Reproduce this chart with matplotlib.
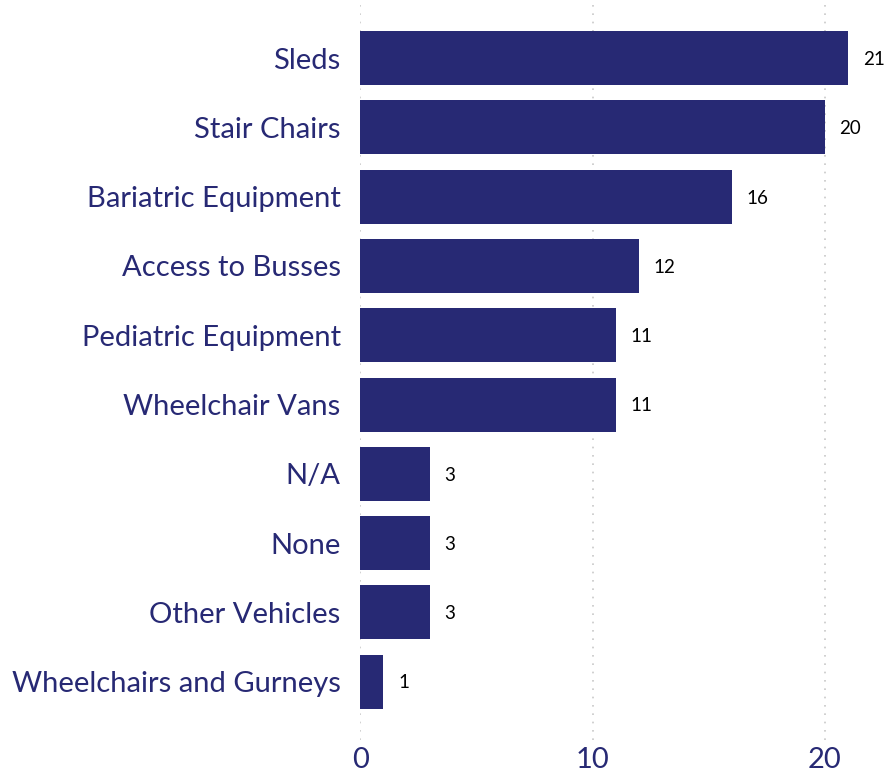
import matplotlib.pyplot as plt

categories = ["Sleds", "Stair Chairs", "Bariatric Equipment", "Access to Busses",
              "Pediatric Equipment", "Wheelchair Vans", "N/A", "None",
              "Other Vehicles", "Wheelchairs and Gurneys"]
counts = [21, 20, 16, 12, 11, 11, 3, 3, 3, 1]
ticks = [0, 10, 20]

navy = "#272974"
plt.rcParams['font.family'] = ['Lato', 'DejaVu Sans']

fig = plt.figure(figsize=(8.87, 7.82), dpi=100)
ax = fig.add_axes([0.406, 0.054, 0.594, 0.946])

pos = list(range(len(categories)))
ax.barh(pos, counts, height=0.78, color=navy, zorder=2)
for p, v in zip(pos, counts):
    ax.annotate(str(v), (v, p), xytext=(10.5, -1), textcoords="offset points",
                va="center", ha="left", fontsize=13.5, color="black")

ax.set_ylim(len(categories) - 1 + 0.84, -0.84)
ax.set_xlim(0, 22.67)
ax.set_yticks(pos)
ax.set_yticklabels(categories, fontsize=21, color=navy)
ax.set_xticks(ticks)
ax.set_xticklabels([str(t) for t in ticks], fontsize=21, color=navy)
ax.tick_params(length=0)
ax.tick_params(axis="x", pad=5)
ax.tick_params(axis="y", pad=14)
ax.xaxis.grid(True, linestyle=(0, (1, 4)), color="#c8c8c8", linewidth=1.2, zorder=0)
for s in ax.spines.values():
    s.set_visible(False)

fig.savefig("out.png", dpi=100)
